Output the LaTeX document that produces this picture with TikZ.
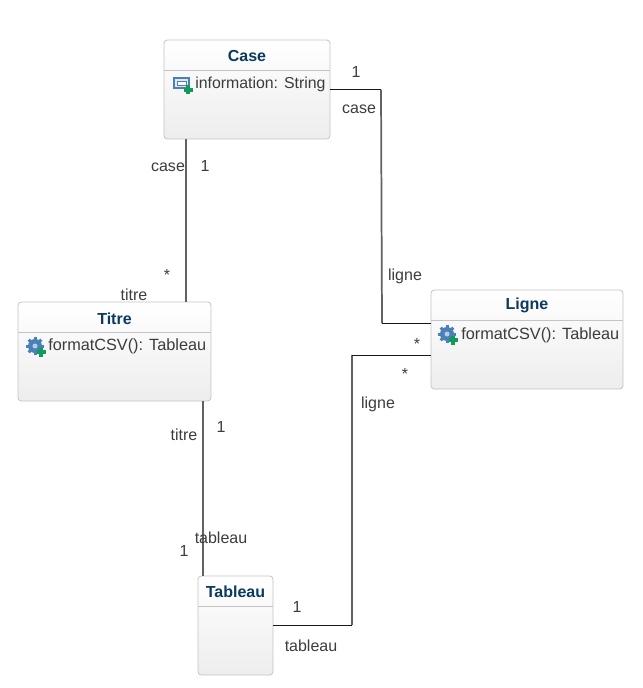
\documentclass[tikz,border=0pt]{standalone}
\usepackage{fontspec}
\setmainfont{Liberation Sans}
\definecolor{titleblue}{HTML}{0B3A5E}
\definecolor{boxedge}{HTML}{C4C4C4}
\definecolor{plusgreen}{HTML}{129A5A}
\definecolor{iconblue}{HTML}{4A80B8}
\definecolor{labelgrey}{HTML}{3C3C3C}
\tikzset{
  classbox/.style={draw=boxedge,line width=0.6pt,rounded corners=2.5pt,top color=white,bottom color=black!7,
    inner sep=0pt,outer sep=0pt,minimum height=74.25pt},
  classtitle/.style={font=\fontsize{12}{14}\selectfont\bfseries,text=titleblue,inner sep=0pt},
  member/.style={font=\fontsize{12.2}{14}\selectfont,text=labelgrey,inner sep=0pt,anchor=west},
  rolelabel/.style={font=\fontsize{12}{14}\selectfont,text=labelgrey,inner sep=0pt},
  assoch/.style={line width=0.75pt,black!90},
  assocv/.style={line width=1.3pt,black!62},
  plusicon/.pic={
    \fill[plusgreen] (-1.6,-4.5) rectangle (1.6,4.5);
    \fill[plusgreen] (-4.5,-1.6) rectangle (4.5,1.6);
  },
  attricon/.pic={
    \draw[iconblue,fill=blue!10,line width=0.9pt] (-7,-6) rectangle (8,4);
    \draw[iconblue,fill=white,line width=0.6pt] (-4,-3) rectangle (5,1);
    \pic at (7,6) {plusicon};
  },
  opicon/.pic={
    \foreach \a in {0,45,...,315}
      \fill[iconblue,rotate=\a] (-1.5,-9) rectangle (1.5,0);
    \fill[iconblue] (0,0) circle (7);
    \fill[white!60!iconblue] (0,0) circle (2.5);
    \pic at (6,6) {plusicon};
  },
}
\begin{document}
\begin{tikzpicture}[x=0.75pt,y=-0.75pt]
  \useasboundingbox (0,0) rectangle (642,688);
  \node[classbox,minimum width=124.5pt] (case) at (247,89.5) {};
  \node[classbox,minimum width=144.75pt] (titre) at (114.5,351.5) {};
  \node[classbox,minimum width=144pt] (ligne) at (527,339.5) {};
  \node[classbox,minimum width=56.25pt] (tableau) at (235.5,625.5) {};
  % compartment lines
  \draw[boxedge,line width=0.6pt] (164,70) -- (330,70);
  \draw[boxedge,line width=0.6pt] (18,332) -- (211,332);
  \draw[boxedge,line width=0.6pt] (431,320) -- (623,320);
  \draw[boxedge,line width=0.6pt] (198,606) -- (273,606);
  \node[classtitle] (casetitle) at (247,55.5) {Case};
  \node[classtitle] (titretitle) at (114.5,318.5) {Titre};
  \node[classtitle] (lignetitle) at (527,305.5) {Ligne};
  \node[classtitle] (tableautitle) at (235.5,591.5) {Tableau};
  \pic at (181,84) {attricon};
  \pic at (35,346) {opicon};
  \pic at (447,334) {opicon};
  \node[member,font=\fontsize{11.9}{14}\selectfont] (caseattr) at (195,84.5) {information: String};
  \node[member] (titreop) at (48,346) {formatCSV(): Tableau};
  \node[member] (ligneop) at (461,335) {formatCSV(): Tableau};
  % ports on the boxes
  \coordinate (caseS) at (186,139);
  \coordinate (titreN) at (186,302);
  \coordinate (titreS) at (203,401);
  \coordinate (tableauN) at (203,576);
  \coordinate (caseE) at (330,90);
  \coordinate (ligneA) at (431,323);
  \coordinate (ligneB) at (431,355);
  \coordinate (tableauE) at (273,625);
  \coordinate (bendA) at (381,90);
  \coordinate (bendB) at (382,323);
  \coordinate (bendC) at (352,355);
  \coordinate (bendD) at (352,625);
  \draw[assocv] (caseS) -- (titreN);
  \draw[assocv] (titreS) -- (tableauN);
  \draw[assocv] (bendA) -- (bendB);
  \draw[assocv] (bendC) -- (bendD);
  \draw[assoch] (caseE) -- (bendA);
  \draw[assoch] (bendB) -- (ligneA);
  \draw[assoch] (ligneB) -- (bendC);
  \draw[assoch] (bendD) -- (tableauE);
  \node[rolelabel] (l1) at (356,71.5) {1};
  \node[rolelabel] (l2) at (359,109.5) {case};
  \node[rolelabel] (l3) at (405,276.5) {ligne};
  \node[rolelabel] (l4) at (168,167.5) {case};
  \node[rolelabel] (l5) at (205,165.5) {1};
  \node[rolelabel] (l6) at (167,274.5) {*};
  \node[rolelabel] (l7) at (134,295) {titre};
  \node[rolelabel] (l8) at (184,434.5) {titre};
  \node[rolelabel] (l9) at (221,427) {1};
  \node[rolelabel] (l10) at (221,537.5) {tableau};
  \node[rolelabel] (l11) at (184,551) {1};
  \node[rolelabel] (l12) at (417,344) {*};
  \node[rolelabel] (l13) at (405,374) {*};
  \node[rolelabel] (l14) at (378,404.5) {ligne};
  \node[rolelabel] (l15) at (297,607) {1};
  \node[rolelabel] (l16) at (311,645.5) {tableau};
\end{tikzpicture}
\end{document}
